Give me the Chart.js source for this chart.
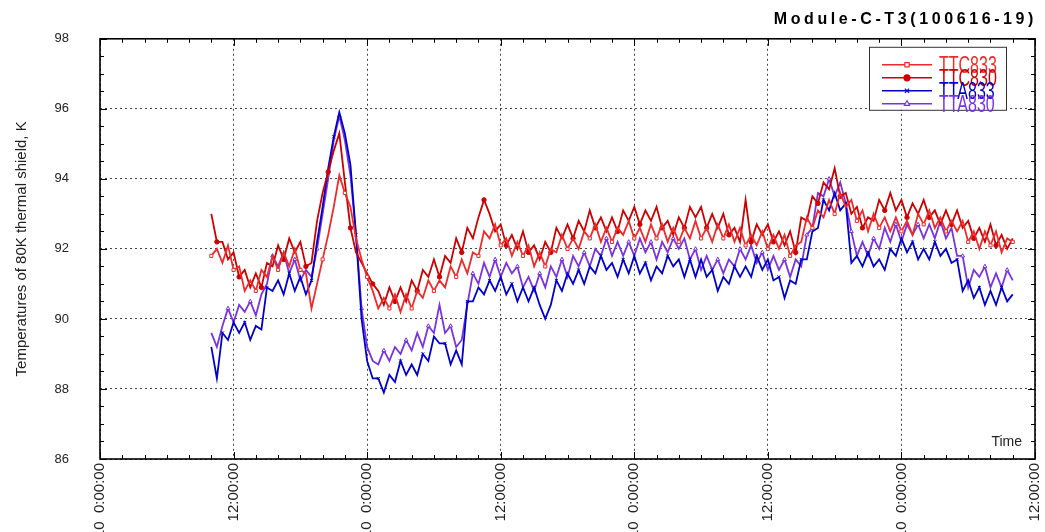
<!DOCTYPE html>
<html>
<head>
<meta charset="utf-8">
<script src="https://cdn.jsdelivr.net/npm/chart.js@4.4.1/dist/chart.umd.min.js"></script>
<style>
html, body { margin: 0; padding: 0; background: #fff; overflow: hidden; }
</style>
</head>
<body>
<canvas id="grafico" width="1045" height="532"></canvas>
<script>
const TITULO = 'Module-C-T3(100616-19)';
const EIXO_Y = 'Temperatures of 80K thermal shield, K';
const NOMES = ['TTC833', 'TTC830', 'TTA833', 'TTA830'];

// horas desde 06/16 0:00, uma amostra a cada meia hora
const INICIO_H = 10;
const PASSO_H = 0.5;

const TICKS_X = [0, 12, 24, 36, 48, 60, 72, 84];
const ROTULOS_X = ['06/16/10  0:00:00', '12:00:00', '06/17/10  0:00:00', '12:00:00', '06/18/10  0:00:00', '12:00:00', '06/19/10  0:00:00', '12:00:00'];
const TICKS_Y = [86, 88, 90, 92, 94, 96, 98];

const TTC833 = [
  91.8, 92.0, 91.6, 92.1, 91.4, 91.5, 90.8, 91.1, 90.8, 91.4, 91.2, 91.8,
  91.4, 91.9, 91.5, 92.0, 91.4, 91.3, 90.3, 91.0, 91.7, 92.4, 93.2, 94.1,
  93.6, 93.2, 92.3, 91.7, 91.2, 90.8, 90.3, 90.6, 90.3, 90.7, 90.2, 90.7,
  90.3, 90.8, 90.6, 91.1, 90.8, 91.1, 90.9, 91.5, 91.2, 91.7, 91.3, 91.9,
  91.8, 92.5, 92.3, 92.7, 92.1, 92.3, 91.8, 92.2, 91.8, 92.1, 91.5, 91.9,
  91.5, 92.0, 91.9, 92.4, 92.0, 92.3, 92.0, 92.5, 92.3, 92.7, 92.2, 92.6,
  92.2, 92.6, 92.4, 92.8, 92.3, 92.6, 92.2, 92.7, 92.3, 92.7, 92.2, 92.6,
  92.2, 92.6, 92.3, 92.8, 92.3, 92.6, 92.2, 92.7, 92.3, 92.7, 92.2, 92.6,
  92.1, 92.4, 92.1, 92.5, 92.0, 92.4, 92.0, 92.4, 91.8, 92.1, 92.2, 92.9,
  92.6, 93.1, 92.9, 93.4, 93.0, 93.6, 93.2, 93.4, 92.8, 93.1, 92.5, 93.0,
  92.6, 92.9, 92.5, 92.9, 92.5, 92.8, 92.4, 93.0, 92.7, 93.1, 92.6, 92.9,
  92.5, 92.8, 92.5, 92.8, 92.2, 92.5, 92.0, 92.5, 92.1, 92.5, 91.9, 92.3,
  92.2
];

const TTC830 = [
  93.0, 92.2, 92.2, 91.7, 91.9, 91.2, 91.4, 90.9, 91.3, 90.9, 91.6, 91.5,
  92.1, 91.7, 92.3, 91.9, 92.2, 91.5, 91.6, 92.8, 93.6, 94.2, 94.8, 95.3,
  93.9, 92.6, 91.9, 91.6, 91.3, 91.0, 90.8, 90.4, 90.9, 90.5, 90.9, 90.5,
  91.1, 90.8, 91.4, 91.2, 91.7, 91.2, 91.8, 91.6, 92.3, 91.9, 92.6, 92.3,
  92.9, 93.4, 93.0, 92.5, 92.7, 92.1, 92.4, 92.0, 92.5, 91.9, 92.1, 91.7,
  92.2, 91.9, 92.6, 92.3, 92.7, 92.3, 92.8, 92.5, 93.1, 92.6, 92.9, 92.5,
  92.9, 92.5, 93.1, 92.8, 93.2, 92.7, 93.1, 92.8, 93.2, 92.6, 92.8, 92.4,
  92.9, 92.6, 93.2, 92.9, 93.2, 92.6, 93.0, 92.6, 93.0, 92.4, 92.6, 92.2,
  93.4, 92.2, 92.7, 92.4, 92.7, 92.2, 92.5, 92.1, 92.5, 91.9, 92.9, 92.8,
  93.5, 93.3, 93.9, 93.7, 94.3, 93.5, 93.6, 93.0, 93.2, 92.6, 92.9, 92.8,
  93.4, 93.1, 93.6, 93.1, 93.4, 92.9, 93.3, 93.0, 93.4, 92.9, 93.1, 92.7,
  93.1, 92.7, 93.1, 92.6, 92.8, 92.3, 92.6, 92.2, 92.7, 92.1, 92.4, 92.0,
  92.3
];

const TTA833 = [
  89.2, 88.3, 89.6, 89.4, 89.9, 89.6, 89.9, 89.4, 89.8, 89.7, 90.9, 90.8,
  91.1, 90.7, 91.3, 90.8, 91.2, 90.7, 91.1, 92.2, 93.2, 94.3, 95.2, 95.9,
  95.3, 94.4, 92.4, 90.0, 88.8, 88.3, 88.3, 87.9, 88.4, 88.2, 88.8, 88.4,
  88.7, 88.4, 89.0, 88.8, 89.5, 89.3, 89.3, 88.7, 89.1, 88.7, 90.5, 90.5,
  90.9, 90.7, 91.1, 90.8, 91.2, 90.7, 91.0, 90.5, 90.9, 90.5, 90.9, 90.4,
  90.0, 90.4, 91.1, 90.8, 91.3, 91.0, 91.4, 91.0, 91.5, 91.3, 91.8, 91.4,
  91.6, 91.2, 91.7, 91.3, 91.8, 91.3, 91.6, 91.1, 91.5, 91.3, 91.8, 91.5,
  91.7, 91.2, 91.7, 91.2, 91.7, 91.2, 91.4, 90.8, 91.2, 91.0, 91.5, 91.2,
  91.5, 91.2, 91.8, 91.4, 91.7, 91.1, 91.2, 90.6, 91.1, 91.0, 91.7, 91.7,
  92.5, 92.6, 93.4, 93.1, 93.6, 93.1, 93.3, 91.6, 91.8, 91.5, 91.9, 91.5,
  91.7, 91.4, 92.0, 91.8, 92.3, 91.9, 92.2, 91.7, 92.0, 91.7, 92.2, 91.8,
  92.0, 91.6, 91.7, 90.8, 91.1, 90.6, 90.9, 90.4, 90.8, 90.4, 90.9, 90.5,
  90.7
];

const TTA830 = [
  89.6, 89.2, 89.8, 90.3, 89.9, 90.4, 90.2, 90.5, 90.1, 90.7, 91.0, 91.8,
  91.5, 91.9, 91.3, 91.7, 91.1, 91.4, 91.2, 92.0, 93.0, 94.0, 95.1, 95.8,
  95.1, 94.1, 92.4, 90.3, 89.2, 88.8, 88.7, 89.1, 88.8, 89.2, 89.0, 89.4,
  89.1, 89.6, 89.2, 89.8, 89.6, 90.4, 89.6, 89.8, 89.2, 89.4, 90.4, 91.3,
  91.0, 91.6, 91.2, 91.7, 91.2, 91.6, 91.3, 91.5, 90.9, 91.2, 90.8, 91.3,
  90.9, 91.5, 91.2, 91.7, 91.2, 91.8, 91.5, 91.9, 91.5, 92.0, 91.8, 92.3,
  91.8, 92.2, 91.8, 92.2, 91.8, 92.3, 91.9, 92.2, 91.7, 92.2, 91.9, 92.3,
  92.0, 92.3, 91.7, 92.0, 91.4, 91.8, 91.4, 91.7, 91.3, 91.7, 91.5, 92.0,
  91.7, 92.1, 91.6, 91.9, 91.4, 91.8, 91.4, 91.7, 91.2, 91.7, 91.5, 92.4,
  92.6, 93.6, 93.5, 94.0, 93.5, 93.9, 93.3, 92.5, 91.8, 92.2, 91.8, 92.3,
  92.0, 92.6, 92.2, 92.7, 92.2, 92.7, 92.4, 92.7, 92.3, 92.7, 92.3, 92.8,
  92.3, 92.6, 91.8, 91.8, 90.9, 91.4, 91.2, 91.5, 90.9, 91.3, 90.9, 91.4,
  91.1
];

const VALORES = [TTC833, TTC830, TTA833, TTA830];

const CORES = ['#ee2a2a', '#cc0000', '#0000cc', '#7a33e0'];
const MARCAS = ['rect', 'circle', 'crossRot', 'triangle'];
const FUNDO_MARCA = ['#fff', '#cc0000', '#0000cc', '#fff'];
const FONTE = '"Liberation Sans", Arial, sans-serif';

const horas = TTC833.map((_, i) => INICIO_H + i * PASSO_H);
const pontos = vals => vals.map((v, i) => ({ x: horas[i], y: v }));

// moldura, ticks para dentro, legenda, titulo e "Time"
const moldura = {
    id: 'moldura',
    afterDraw(chart) {
        const { ctx, chartArea: a, scales: { x, y } } = chart;
        ctx.save();
        ctx.strokeStyle = '#000';
        ctx.lineWidth = 1;
        const linha = (x1, y1, x2, y2) => { ctx.beginPath(); ctx.moveTo(x1, y1); ctx.lineTo(x2, y2); ctx.stroke(); };
        for (let h = x.min; h <= x.max; h += 2) {
            const px = Math.round(x.getPixelForValue(h)) + 0.5;
            const L = h % 12 === 0 ? 7 : 4;
            linha(px, a.bottom, px, a.bottom - L);
            linha(px, a.top, px, a.top + L);
        }
        for (let v = y.min; v <= y.max; v += 0.5) {
            const py = Math.round(y.getPixelForValue(v)) + 0.5;
            const L = v % 2 === 0 ? 7 : 4;
            linha(a.left, py, a.left + L, py);
            linha(a.right, py, a.right - L, py);
        }
        ctx.lineWidth = 1.6;
        ctx.strokeRect(a.left, a.top, a.right - a.left, a.bottom - a.top);

        // legenda
        const bx = a.right - 166, by = a.top + 8;
        ctx.fillStyle = '#fff';
        ctx.fillRect(bx, by, 137, 63);
        ctx.lineWidth = 1;
        ctx.strokeStyle = '#333';
        ctx.strokeRect(bx + 0.5, by + 0.5, 137, 63);
        NOMES.forEach((nome, k) => {
            const ry = by + 18 + k * 13;
            ctx.strokeStyle = CORES[k];
            ctx.lineWidth = 1.4;
            linha(bx + 13, ry, bx + 63, ry);
            ctx.fillStyle = FUNDO_MARCA[k];
            ctx.lineWidth = 1.2;
            Chart.helpers.drawPoint(ctx, { pointStyle: MARCAS[k], radius: 3, rotation: 0, borderWidth: 1.2 }, bx + 38, ry);
            ctx.save();
            ctx.translate(bx + 70, ry + 8);
            ctx.scale(1, 1.5);
            ctx.fillStyle = CORES[k];
            ctx.font = '16px ' + FONTE;
            ctx.textAlign = 'left';
            ctx.textBaseline = 'alphabetic';
            ctx.fillText(nome, 0, 0);
            ctx.restore();
        });

        ctx.fillStyle = '#222';
        ctx.font = '14px ' + FONTE;
        ctx.textAlign = 'right';
        ctx.textBaseline = 'alphabetic';
        ctx.fillText('Time', a.right - 13, a.bottom - 13);

        ctx.fillStyle = '#000';
        ctx.font = 'bold 16px ' + FONTE;
        ctx.letterSpacing = '3.6px';
        ctx.fillText(TITULO, a.right + 2, 24);
        ctx.restore();
    }
};

new Chart(document.getElementById('grafico'), {
    type: 'line',
    data: {
        datasets: NOMES.map((nome, k) => ({
            label: nome,
            data: pontos(VALORES[k]),
            borderColor: CORES[k],
            borderWidth: 1.8,
            pointStyle: MARCAS[k],
            pointRadius: ctx => (ctx.dataIndex % 4 === k ? 2.2 : 0),
            pointBorderColor: CORES[k],
            pointBackgroundColor: FUNDO_MARCA[k],
            pointBorderWidth: 1,
            tension: 0
        }))
    },
    options: {
        responsive: false,
        animation: false,
        layout: { padding: { top: 34, right: 10, left: 0, bottom: 0 } },
        plugins: { legend: { display: false }, tooltip: { enabled: false } },
        scales: {
            x: {
                type: 'linear',
                min: 0,
                max: 84,
                afterBuildTicks: s => { s.ticks = TICKS_X.map(v => ({ value: v })); },
                afterFit: s => { s.height = 73; s.paddingLeft = 0; s.paddingRight = 0; },
                ticks: {
                    autoSkip: false,
                    minRotation: 90,
                    maxRotation: 90,
                    padding: 4,
                    color: '#222',
                    font: { family: FONTE, size: 15 },
                    callback: v => ROTULOS_X[TICKS_X.indexOf(v)]
                },
                grid: { color: '#444', lineWidth: 1, drawTicks: false },
                border: { display: false, dash: [2, 3] }
            },
            y: {
                min: 86,
                max: 98,
                afterBuildTicks: s => { s.ticks = TICKS_Y.map(v => ({ value: v })); },
                afterFit: s => { s.width = 100; },
                ticks: {
                    padding: 31,
                    color: '#222',
                    font: { family: FONTE, size: 13 },
                    callback: v => String(v)
                },
                grid: { color: '#444', lineWidth: 1, drawTicks: false },
                border: { display: false, dash: [2, 3] },
                title: {
                    display: true,
                    text: EIXO_Y,
                    color: '#222',
                    font: { family: FONTE, size: 15 },
                    padding: { top: 13, bottom: 0 }
                }
            }
        }
    },
    plugins: [moldura]
});
</script>
</body>
</html>
